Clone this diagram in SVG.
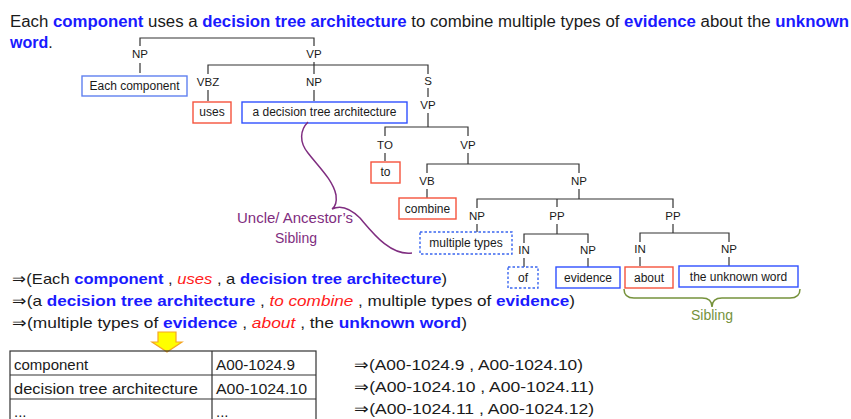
<svg xmlns="http://www.w3.org/2000/svg" width="851" height="419" viewBox="0 0 851 419">
<style>
text{font-family:"Liberation Sans",Arial,sans-serif;fill:#1a1a1a}
.b{font-weight:bold;fill:#1a1aff}
.r{font-style:italic;fill:#ff1a1a}
.lbl{font-size:11.5px;text-anchor:middle}
.bt{font-size:12px;text-anchor:middle}
.ln{fill:none;stroke:#333;stroke-width:1.2}
.bx{fill:#fff;stroke-width:1.4}
.blue{stroke:#3050ff}
.lblue{stroke:#6080f0}
.red{stroke:#f5533d}
.dash{stroke:#3a66f0;stroke-dasharray:2.5,2}
.big{font-size:16px}
.mid{font-size:15px}
</style>
<g id="title">
<text x="10" y="27" class="big" textLength="839" lengthAdjust="spacingAndGlyphs">Each <tspan class="b">component</tspan> uses a <tspan class="b">decision tree architecture</tspan> to combine multiple types of <tspan class="b">evidence</tspan> about the <tspan class="b">unknown</tspan></text>
<text x="10" y="48" class="big"><tspan class="b">word</tspan>.</text>
</g>
<g id="connectors">
<path class="ln" d="M140,46 V38 H314 V46"/>
<path class="ln" d="M140,63 V73"/>
<path class="ln" d="M314,62 V65"/>
<path class="ln" d="M208,74 V65 H428 V74"/>
<path class="ln" d="M314,65 V74"/>
<path class="ln" d="M208,90 V101"/>
<path class="ln" d="M314,90 V101"/>
<path class="ln" d="M428,88 V97"/>
<path class="ln" d="M428,113 V127"/>
<path class="ln" d="M385,136 V127 H468 V136"/>
<path class="ln" d="M385,153 V161"/>
<path class="ln" d="M468,153 V164"/>
<path class="ln" d="M427,173 V164 H579 V173"/>
<path class="ln" d="M427,189 V198"/>
<path class="ln" d="M579,189 V199"/>
<path class="ln" d="M477,208 V199 H673 V208"/>
<path class="ln" d="M557,199 V207"/>
<path class="ln" d="M477,224 V232"/>
<path class="ln" d="M557,224 V234"/>
<path class="ln" d="M673,224 V233"/>
<path class="ln" d="M524,243 V234 H588 V243"/>
<path class="ln" d="M524,258 V267"/>
<path class="ln" d="M588,258 V267"/>
<path class="ln" d="M640,242 V233 H729 V242"/>
<path class="ln" d="M640,257 V266"/>
<path class="ln" d="M729,257 V266"/>
</g>
<g id="labels">
<text x="140" y="58" class="lbl">NP</text>
<text x="314" y="58" class="lbl">VP</text>
<text x="208" y="86" class="lbl">VBZ</text>
<text x="314" y="86" class="lbl">NP</text>
<text x="428" y="85" class="lbl">S</text>
<text x="428" y="109" class="lbl">VP</text>
<text x="385" y="149" class="lbl">TO</text>
<text x="468" y="149" class="lbl">VP</text>
<text x="427" y="185" class="lbl">VB</text>
<text x="579" y="185" class="lbl">NP</text>
<text x="477" y="220" class="lbl">NP</text>
<text x="557" y="220" class="lbl">PP</text>
<text x="673" y="220" class="lbl">PP</text>
<text x="524" y="254" class="lbl">IN</text>
<text x="588" y="254" class="lbl">NP</text>
<text x="640" y="253" class="lbl">IN</text>
<text x="729" y="253" class="lbl">NP</text>
</g>
<g id="n-each"><rect x="82" y="76" width="105" height="20" class="bx lblue"/><text x="134.5" y="90" class="bt">Each component</text></g>
<g id="n-uses"><rect x="193" y="102" width="38" height="21" class="bx red"/><text x="212" y="116" class="bt">uses</text></g>
<g id="n-dta"><rect x="242" y="102" width="165" height="21" class="bx blue"/><text x="324.5" y="116" class="bt">a decision tree architecture</text></g>
<g id="n-to"><rect x="371" y="162" width="29" height="21" class="bx red"/><text x="385.5" y="176" class="bt">to</text></g>
<g id="n-combine"><rect x="399" y="198" width="57" height="21" class="bx red"/><text x="427.5" y="213" class="bt">combine</text></g>
<g id="n-multi"><rect x="420" y="232" width="92" height="22" class="bx dash"/><text x="466" y="247" class="bt">multiple types</text></g>
<g id="n-of"><rect x="508" y="267" width="30" height="21" class="bx dash"/><text x="523" y="282" class="bt">of</text></g>
<g id="n-evidence"><rect x="556" y="267" width="64" height="21" class="bx blue"/><text x="588" y="282" class="bt">evidence</text></g>
<g id="n-about"><rect x="625" y="267" width="48" height="21" class="bx red"/><text x="649" y="282" class="bt">about</text></g>
<g id="n-unknown"><rect x="679" y="266" width="119" height="21" class="bx blue"/><text x="738.5" y="281" class="bt">the unknown word</text></g>
<g id="uncle">
<path d="M308,122 C300,130 299,142 308,153 C318,166 333,180 336,195 C337,203 335,207 332,209 C340,205 350,208 360,218 C372,232 390,256 412,253" fill="none" stroke="#7f2d80" stroke-width="1.5"/>
<text x="295" y="223" font-size="14" text-anchor="middle" style="fill:#7f2d80" textLength="116" lengthAdjust="spacingAndGlyphs">Uncle/ Ancestor’s</text>
<text x="296" y="243" font-size="14" text-anchor="middle" style="fill:#7f2d80">Sibling</text>
</g>
<g id="sibling">
<path d="M624,289 Q624,298 634,298 H702 Q712,298 712,307 Q712,298 722,298 H790 Q800,298 800,289" fill="none" stroke="#76923c" stroke-width="1.5"/>
<text x="712" y="320" font-size="14" text-anchor="middle" style="fill:#76923c">Sibling</text>
</g>
<g id="tuples">
<text x="12" y="284" class="mid" textLength="435" lengthAdjust="spacingAndGlyphs">⇒(Each <tspan class="b">component</tspan> , <tspan class="r">uses</tspan> , a <tspan class="b">decision tree architecture</tspan>)</text>
<text x="12" y="306" class="mid" textLength="563" lengthAdjust="spacingAndGlyphs">⇒(a <tspan class="b">decision tree architecture</tspan> , <tspan class="r">to combine</tspan> , multiple types of <tspan class="b">evidence</tspan>)</text>
<text x="12" y="328" class="mid" textLength="455" lengthAdjust="spacingAndGlyphs">⇒(multiple types of <tspan class="b">evidence</tspan> , <tspan class="r">about</tspan> , the <tspan class="b">unknown word</tspan>)</text>
</g>
<g id="arrow">
<polygon points="158,332 176,332 176,342 182,342 167,352 152,342 158,342" fill="#ffff00" stroke="#f5a623" stroke-width="1.2"/>
</g>
<g id="table">
<rect x="10" y="351" width="306" height="80" fill="none" stroke="#333" stroke-width="1.2"/>
<path class="ln" d="M10,375 H316 M10,399 H316 M212,351 V419"/>
<text x="14" y="370" class="mid">component</text>
<text x="216" y="370" class="mid" textLength="79" lengthAdjust="spacingAndGlyphs">A00-1024.9</text>
<text x="14" y="394" class="mid" textLength="184" lengthAdjust="spacingAndGlyphs">decision tree architecture</text>
<text x="216" y="394" class="mid" textLength="91" lengthAdjust="spacingAndGlyphs">A00-1024.10</text>
<text x="14" y="417" class="mid">...</text>
<text x="216" y="417" class="mid">...</text>
</g>
<g id="ids">
<text x="354" y="370" class="mid" textLength="229" lengthAdjust="spacingAndGlyphs">⇒(A00-1024.9 , A00-1024.10)</text>
<text x="354" y="392" class="mid" textLength="240" lengthAdjust="spacingAndGlyphs">⇒(A00-1024.10 , A00-1024.11)</text>
<text x="354" y="414" class="mid" textLength="240" lengthAdjust="spacingAndGlyphs">⇒(A00-1024.11 , A00-1024.12)</text>
</g>
</svg>
